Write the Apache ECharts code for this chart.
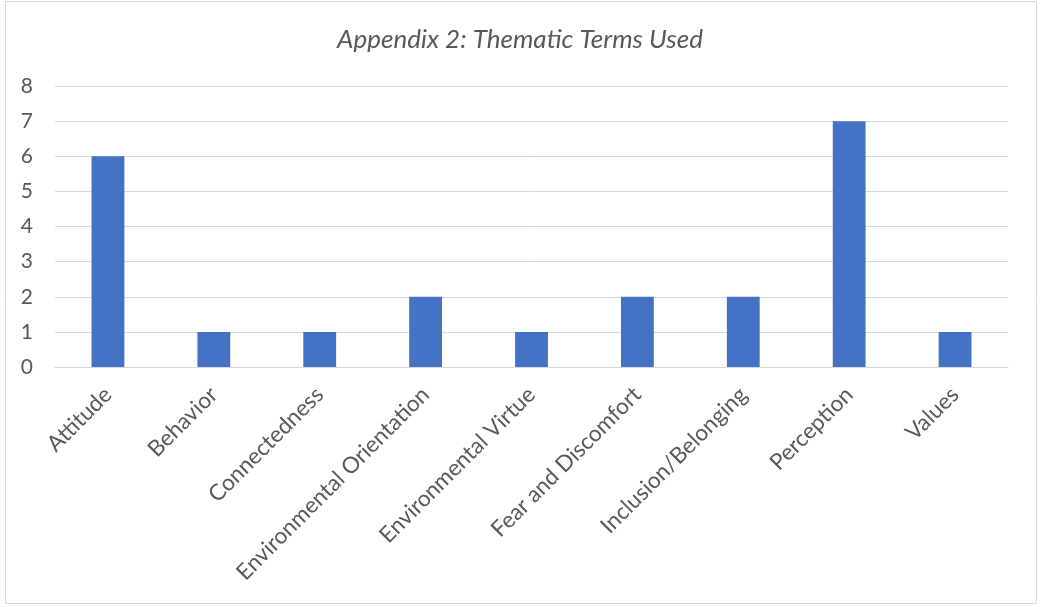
<!DOCTYPE html>
<html><head><meta charset="utf-8">
<script src="https://cdn.jsdelivr.net/npm/echarts@6/dist/echarts.min.js"></script>
<style>html,body{margin:0;padding:0;background:#fff;}#c{width:1040px;height:607px;}</style>
</head><body><div id="c"></div>
<script>
const categories = ["Attitude","Behavior","Connectedness","Environmental Orientation","Environmental Virtue","Fear and Discomfort","Inclusion/Belonging","Perception","Values"];
const counts = [6,1,1,2,1,2,2,7,1];
const titleText = "Appendix 2: Thematic Terms Used";
const chart = echarts.init(document.getElementById('c'));
chart.setOption({
  animation:false,
  graphic:[{type:'rect',shape:{x:5.5,y:1.5,width:1031,height:602},style:{fill:'none',stroke:'#d9d9d9',lineWidth:1},silent:true}],
  title:{text:titleText,left:'center',top:22,textStyle:{fontFamily:'Lato',fontStyle:'italic',fontWeight:'normal',fontSize:26,color:'#595959'}},
  grid:{left:55,right:32,top:86,bottom:240,containLabel:false},
  xAxis:{type:'category',data:categories,
    axisLine:{lineStyle:{color:'#d9d9d9',width:1}},axisTick:{show:false},
    axisLabel:{interval:0,rotate:45,fontFamily:'Lato',fontSize:22.5,color:'#595959',margin:24}},
  yAxis:{type:'value',min:0,max:8,interval:1,
    axisLine:{show:false},axisTick:{show:false},
    splitLine:{lineStyle:{color:'#d9d9d9',width:1}},
    axisLabel:{fontFamily:'Lato',fontSize:21,color:'#595959',margin:22}},
  series:[{type:'bar',data:counts,barWidth:'31%',itemStyle:{color:'#4472C4'}}]
});
</script></body></html>
